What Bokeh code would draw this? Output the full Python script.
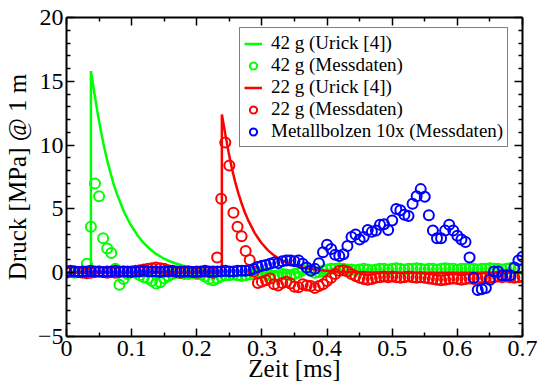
from bokeh.plotting import figure
from bokeh.models import (LinearAxis, Range1d, Legend, LegendItem, FixedTicker,
                          CustomJSTickFormatter)
from bokeh.embed import file_html
from bokeh.resources import INLINE

# ---------------- data ----------------
dt_mess = 0.00625  # sampling interval of measured data [ms]
n_mess = 113
t_mess = [i * dt_mess for i in range(n_mess)]

green_mess = [0.1, 0.05, 0.0, 0.05, 0.1,
              0.7, 3.6, 7.0, 6.0, 2.7, 1.9, 1.55,
              0.3, -0.95, -0.5, -0.1, 0.1, 0.0, -0.2, -0.35,
              -0.45, -0.65, -0.85, -0.75, -0.45, -0.25, -0.1, 0.0, -0.05, -0.1,
              -0.1, -0.05, -0.1, -0.15, -0.3, -0.5, -0.6, -0.45, -0.3, -0.2,
              -0.2, -0.15, -0.2, -0.25, -0.2, -0.15, -0.1, -0.05, 0.0, -0.1,
              -0.2, -0.25, -0.2, -0.1, -0.15, -0.2, -0.1, 0.0, 0.2, 0.35,
              0.2, 0.0, 0.05, 0.15, 0.25, 0.3, 0.3, 0.35, 0.3, 0.25,
              0.25, 0.2, 0.25, 0.3, 0.25, 0.2, 0.25, 0.3, 0.3, 0.25,
              0.3, 0.35, 0.3, 0.25, 0.3, 0.3, 0.35, 0.3, 0.25, 0.3,
              0.3, 0.25, 0.3, 0.35, 0.3, 0.3, 0.25, 0.3, 0.3, 0.35,
              0.3, 0.25, 0.3, 0.3, 0.35, 0.3, 0.3, 0.25, 0.3, 0.35, 0.3, 0.3, 0.3]

red_mess = [0.0, 0.05, 0.1, 0.05, 0.0, -0.05, 0.0, 0.05, 0.1, 0.05,
            0.0, 0.05, 0.0, 0.05, 0.1, 0.05, 0.1, 0.15, 0.2, 0.25,
            0.3, 0.35, 0.4, 0.35, 0.3, 0.2, 0.1, 0.05, 0.0, 0.05,
            0.1, 0.05, 0.0, 0.05, 0.1, 0.05, 0.0,
            1.2, 5.8, 10.2, 8.4, 4.7, 3.6, 2.85, 1.7, 1.0, 0.1,
            -0.8, -0.7, -0.6, -0.45, -0.9, -1.0, -0.8, -0.7, -0.85, -1.1,
            -1.15, -0.9, -1.0, -1.05, -1.2, -1.05, -0.9, -0.65, -0.4, -0.1,
            0.15, 0.2, 0.1, -0.1, -0.25, -0.4, -0.5, -0.55, -0.5, -0.4,
            -0.35, -0.3, -0.35, -0.3, -0.35, -0.4, -0.35, -0.3, -0.35, -0.4,
            -0.35, -0.4, -0.45, -0.5, -0.55, -0.6, -0.55, -0.5, -0.45, -0.5,
            -0.55, -0.5, -0.45, -0.5, -0.45, -0.4, -0.35, -0.4, -0.35, -0.3,
            -0.35, -0.3, -0.35, -0.4, -0.35, -0.3]

blue_mess = [0.1, 0.15, 0.1, 0.05, 0.1, 0.1, 0.15, 0.1, 0.1, 0.05,
             0.1, 0.1, 0.15, 0.1, 0.1, 0.1, 0.05, 0.1, 0.1, 0.15,
             0.1, 0.1, 0.1, 0.05, 0.1, 0.1, 0.15, 0.1, 0.1, 0.1,
             0.1, 0.05, 0.1, 0.1, 0.15, 0.1, 0.1, 0.1, 0.1, 0.15,
             0.1, 0.1, 0.15, 0.15, 0.15,
             0.2, 0.3, 0.45, 0.55, 0.6, 0.7, 0.8, 0.75, 0.9, 0.95,
             0.95, 0.9, 0.95, 0.7, 0.4, 0.15, 0.3, 0.75, 1.6, 2.2,
             1.85, 1.4, 1.3, 1.45, 2.1, 2.8, 3.0, 2.6, 2.8, 3.35,
             3.2, 3.3, 3.75, 3.8, 3.35, 4.1, 5.0, 4.9, 4.55, 4.45,
             5.4, 6.0, 6.55, 5.95, 4.5, 3.3, 2.7, 2.7, 3.3, 3.75,
             3.3, 2.9, 2.6, 2.4, 1.2, -0.4, -1.35, -1.3, -1.2, -0.55,
             0.1, 0.1, -0.2, -0.2, -0.2, 0.4, 0.95, 1.25]

green_urick_t = [0, 0.0375, 0.0375, 0.043, 0.048, 0.053, 0.058, 0.063, 0.068, 0.073,
                 0.078, 0.088, 0.098, 0.108, 0.118, 0.128, 0.138, 0.148, 0.158, 0.168,
                 0.178, 0.188, 0.198, 0.22, 0.25, 0.3, 0.4, 0.7]
green_urick_v = [0, 0, 15.8, 14.0, 12.45, 11.05, 9.8, 8.7, 7.75, 6.85,
                 6.1, 4.8, 3.8, 3.0, 2.35, 1.85, 1.45, 1.15, 0.9, 0.72,
                 0.56, 0.44, 0.35, 0.21, 0.1, 0.03, 0.0, 0.0]

red_urick_t = [0, 0.2385, 0.2385, 0.244, 0.249, 0.254, 0.259, 0.264, 0.269, 0.274,
               0.279, 0.289, 0.299, 0.309, 0.319, 0.329, 0.339, 0.349, 0.359, 0.369,
               0.389, 0.419, 0.46, 0.5, 0.7]
red_urick_v = [0, 0, 12.4, 10.8, 9.4, 8.15, 7.1, 6.2, 5.4, 4.7,
               4.1, 3.1, 2.35, 1.77, 1.34, 1.02, 0.77, 0.58, 0.44, 0.34,
               0.19, 0.08, 0.03, 0.0, 0.0]

x_ticks = [0.0, 0.1, 0.2, 0.3, 0.4, 0.5, 0.6, 0.7]
x_minor = [0.05, 0.15, 0.25, 0.35, 0.45, 0.55, 0.65]
y_ticks = [-5, 0, 5, 10, 15, 20]
y_minor = [-4, -3, -2, -1, 1, 2, 3, 4, 6, 7, 8, 9, 11, 12, 13, 14, 16, 17, 18, 19]

labels = ["42 g (Urick [4])", "42 g (Messdaten)", "22 g (Urick [4])",
          "22 g (Messdaten)", "Metallbolzen 10x (Messdaten)"]
x_label = "Zeit [ms]"
y_label = "Druck [MPa] @ 1 m"

# ---------------- figure ----------------
FONT = "Liberation Serif"
GREEN, RED, BLUE = "#00ff00", "#ff0000", "#0000ff"

p = figure(frame_width=456, frame_height=319, output_backend="svg", toolbar_location=None,
           x_range=Range1d(0, 0.7), y_range=Range1d(-5, 20),
           x_axis_location=None, y_axis_location=None,
           min_border_left=58, min_border_top=17, min_border_right=16, min_border_bottom=40)
p.grid.visible = False
p.outline_line_color = None
p.background_fill_color = "white"
p.border_fill_color = "white"

def style_axis(ax, show_labels):
    ax.axis_line_width = 2
    ax.axis_line_color = "black"
    ax.major_tick_in = 8
    ax.major_tick_out = 0
    ax.minor_tick_in = 4
    ax.minor_tick_out = 0
    ax.major_tick_line_width = 1.5
    ax.minor_tick_line_width = 1.5
    if show_labels:
        ax.major_label_text_font = FONT
        ax.major_label_text_font_size = "24px"
        ax.major_label_text_font_style = "normal"
        ax.major_label_text_color = "black"
        ax.axis_label_text_font = FONT
        ax.axis_label_text_font_size = "25px"
        ax.axis_label_text_font_style = "normal"
        ax.axis_label_text_color = "black"
    else:
        ax.formatter = CustomJSTickFormatter(code="return ''")
        ax.major_label_standoff = 0

xt = lambda: FixedTicker(ticks=x_ticks, minor_ticks=x_minor)
yt = lambda: FixedTicker(ticks=y_ticks, minor_ticks=y_minor)

xb = LinearAxis(ticker=xt(), axis_label=x_label)
style_axis(xb, True)
xb.major_label_standoff = 4
xb.axis_label_standoff = -4
yl = LinearAxis(ticker=yt(), axis_label=y_label)
style_axis(yl, True)
yl.major_label_standoff = 3
yl.axis_label_standoff = 4
xa = LinearAxis(ticker=xt())
style_axis(xa, False)
yr = LinearAxis(ticker=yt())
style_axis(yr, False)
p.add_layout(xb, "below")
p.add_layout(yl, "left")
p.add_layout(xa, "above")
p.add_layout(yr, "right")

r_gl = p.line(green_urick_t, green_urick_v, line_color=GREEN, line_width=2.5)
r_gm = p.scatter(t_mess, green_mess, marker="circle", size=10, fill_color=None,
                 line_color=GREEN, line_width=2)
r_rl = p.line(red_urick_t, red_urick_v, line_color=RED, line_width=2.5)
r_rm = p.scatter(t_mess, red_mess, marker="circle", size=10, fill_color=None,
                 line_color=RED, line_width=2)
r_bm = p.scatter(t_mess, blue_mess, marker="circle", size=10, fill_color=None,
                 line_color=BLUE, line_width=2)

legend = Legend(items=[LegendItem(label=labels[0], renderers=[r_gl]),
                       LegendItem(label=labels[1], renderers=[r_gm]),
                       LegendItem(label=labels[2], renderers=[r_rl]),
                       LegendItem(label=labels[3], renderers=[r_rm]),
                       LegendItem(label=labels[4], renderers=[r_bm])],
                location=(173, 189), orientation="vertical",
                label_text_font=FONT, label_text_font_size="19px", label_text_color="black",
                label_text_font_style="normal",
                border_line_color="black", border_line_width=1.5,
                background_fill_color="white", background_fill_alpha=1,
                padding=4, spacing=0, margin=0,
                glyph_width=18, glyph_height=21, label_height=21, label_standoff=9)
p.add_layout(legend, "center")

open("out.html", "w").write(file_html(p, INLINE))
